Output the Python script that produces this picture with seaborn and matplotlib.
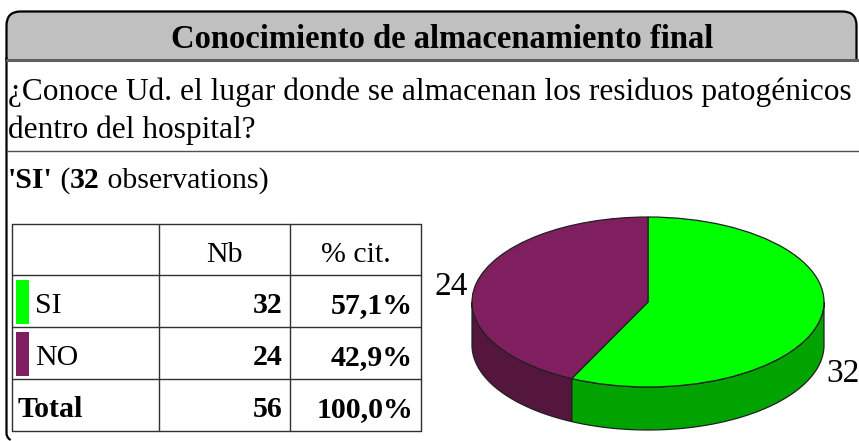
import numpy as np
import matplotlib.pyplot as plt
import seaborn as sns
from matplotlib.patches import FancyBboxPatch, Rectangle, Polygon

# data
categories = ["SI", "NO"]
counts = [32, 24]
percents = ["57,1%", "42,9%"]
total_count = 56
total_percent = "100,0%"
header = ["", "Nb", "% cit."]
title = "Conocimiento de almacenamiento final"
question = ["¿Conoce Ud. el lugar donde se almacenan los residuos patogénicos",
            "dentro del hospital?"]
top_colors = ["#00FF00", "#7F1F5F"]
side_colors = ["#00A300", "#55163E"]

sns.set_theme(style="white")
plt.rcParams["font.family"] = ["Liberation Serif", "DejaVu Serif"]
plt.rcParams["text.color"] = "black"

fig = plt.figure(figsize=(8.59, 4.41), dpi=100)
ax = fig.add_axes([0, 0, 1, 1])
ax.set_xlim(0, 859)
ax.set_ylim(441, 0)
ax.axis("off")

# frame + title bar
ax.add_patch(FancyBboxPatch((6.5, 11.5), 850, 80, boxstyle="round,pad=0,rounding_size=14",
                            fc="#C0C0C0", ec="black", lw=1.6, zorder=1))
ax.add_patch(Rectangle((5, 61), 870, 40, fc="white", ec="none", zorder=2))
corner = np.radians(np.linspace(180, 235, 20))
ax.plot(np.concatenate([[6.5], 14.5 + 8 * np.cos(corner)]),
        np.concatenate([[58], 433 - 8 * np.sin(corner)]), color="black", lw=1.6, zorder=3)
ax.plot([7, 859], [60, 60], color="#606060", lw=2.2, zorder=3)
ax.plot([7, 859], [150.5, 150.5], color="#505050", lw=1.0, zorder=3)
ax.text(442, 48, title, ha="center", va="baseline", fontsize=23.5, fontweight="bold", zorder=4)
ax.text(8, 100, question[0], ha="left", va="baseline", fontsize=22.6, zorder=4)
ax.text(8, 138, question[1], ha="left", va="baseline", fontsize=22.6, zorder=4)

# subtitle with bold parts
fig.canvas.draw()
r = fig.canvas.get_renderer()
x = 8
for s, w in [("'SI'", "bold"), (" (", "normal"), ("32", "bold"), (" observations)", "normal")]:
    t = ax.text(x, 188, s, ha="left", va="baseline", fontsize=21.5, fontweight=w)
    x = ax.transData.inverted().transform(t.get_window_extent(r))[1][0]

# table
col_x = [12, 159, 290, 421]
row_y = [224, 275, 327, 379, 431]
base_y = [262, 313, 365, 417]
for yy in row_y:
    ax.plot([col_x[0], col_x[-1]], [yy, yy], color="#303030", lw=1.0)
for xx in col_x:
    ax.plot([xx, xx], [row_y[0], row_y[-1]], color="#303030", lw=1.0)
fs = 21.5
for j in (1, 2):
    ax.text((col_x[j] + col_x[j + 1]) / 2, base_y[0], header[j],
            ha="center", va="baseline", fontsize=fs)
for i, cat in enumerate(categories):
    ax.add_patch(Rectangle((16, row_y[i + 1] + 5), 13, 44, fc=top_colors[i], ec="none"))
    ax.text(35, base_y[i + 1], cat, ha="left", va="baseline", fontsize=fs)
    ax.text(283, base_y[i + 1], str(counts[i]), ha="right", va="baseline", fontsize=fs, fontweight="bold")
    ax.text(413, base_y[i + 1], percents[i], ha="right", va="baseline", fontsize=fs, fontweight="bold")
ax.text(18, base_y[3], "Total", ha="left", va="baseline", fontsize=fs, fontweight="bold")
ax.text(283, base_y[3], str(total_count), ha="right", va="baseline", fontsize=fs, fontweight="bold")
ax.text(413, base_y[3], total_percent, ha="right", va="baseline", fontsize=fs, fontweight="bold")

# 3D pie
rx, ry, cx, cy, depth = 176, 85, 648, 302, 43
pax = fig.add_axes([(cx - 200) / 859, 0, 400 / 859, (441 - (cy - 100)) / 441])
pax.pie(counts, colors=top_colors, startangle=90, counterclock=False,
        wedgeprops=dict(edgecolor="#202020", linewidth=0.9))
pax.set_aspect("auto")
pax.set_xlim(-200 / rx, 200 / rx)
pax.set_ylim(-(441 - cy) / ry, 100 / ry)
d = depth / ry
bounds = np.concatenate([[0], np.cumsum(counts) / sum(counts) * 360])
for i in range(len(counts)):
    a0, a1 = max(bounds[i], 90), min(bounds[i + 1], 270)
    if a1 <= a0:
        continue
    th = np.radians(np.linspace(a0, a1, 100))
    xs, ys = np.sin(th), np.cos(th)
    pts = np.column_stack([np.concatenate([xs, xs[::-1]]), np.concatenate([ys, ys[::-1] - d])])
    pax.add_patch(Polygon(pts, closed=True, fc=side_colors[i], ec="#202020", lw=0.9, zorder=0))
# value labels
pax.text((468 - cx) / rx, (cy - 295) / ry, str(counts[1]), ha="right", va="baseline", fontsize=24)
pax.text((826 - cx) / rx, (cy - 382) / ry, str(counts[0]), ha="left", va="baseline", fontsize=24)

fig.savefig("out.png", dpi=100)
